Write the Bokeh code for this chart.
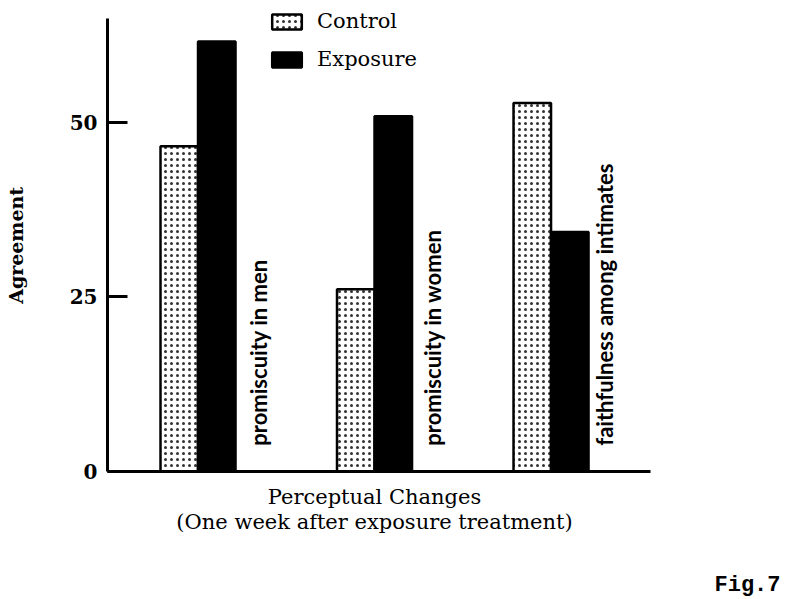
import math
from bokeh.plotting import figure
from bokeh.models import Range1d, FixedTicker, Label, Legend, LegendItem, LinearAxis
from bokeh.embed import file_html
from bokeh.resources import INLINE

# ---- data ----
categories = ["promiscuity in men", "promiscuity in women", "faithfulness among intimates"]
control = [46.6, 26.1, 52.8]
exposure = [61.6, 50.9, 34.3]
y_ticks = [0, 25, 50]
series_names = ["Control", "Exposure"]
y_title = "Agreement"
x_title = ["Perceptual Changes", "(One week after exposure treatment)"]
fig_label = "Fig.7"

SERIF = "DejaVu Serif"
SANS = "Lato"

W, H = 789, 599
# frame covers the whole canvas; axes are placed at fixed data locations
X0, X1 = -1.119, 3.351
Y0, Y1 = -18.34, 67.48
AX_LEFT, AX_RIGHT, AX_TOP = -0.5127, 2.564, 64.9

p = figure(width=W, height=H, output_backend="svg", toolbar_location=None,
           x_range=Range1d(X0, X1), y_range=Range1d(Y0, Y1),
           x_axis_location=None, y_axis_location=None, min_border=0)
p.outline_line_color = None
p.grid.visible = False
p.background_fill_color = "white"
p.border_fill_color = "white"

yax = LinearAxis(fixed_location=AX_LEFT, bounds=(0, AX_TOP), ticker=FixedTicker(ticks=y_ticks))
yax.minor_tick_line_color = None
yax.major_tick_in = 20
yax.major_tick_out = 0
yax.major_tick_line_width = 3
yax.axis_line_width = 3
yax.major_label_text_font = SERIF
yax.major_label_text_font_size = "20px"
yax.major_label_text_font_style = "bold"
yax.major_label_text_color = "black"
yax.major_label_standoff = 10
p.add_layout(yax, "left")

xax = LinearAxis(fixed_location=0, bounds=(AX_LEFT, AX_RIGHT), ticker=FixedTicker(ticks=[]))
xax.minor_tick_line_color = None
xax.major_tick_line_color = None
xax.major_label_text_font_size = "0px"
xax.axis_line_width = 3
p.add_layout(xax, "below")

# bars
idx = list(range(len(categories)))
bw = 0.2125
xc = [i - bw / 2 for i in idx]
xe = [i + bw / 2 for i in idx]
r_c = p.vbar(x=xc, top=control, width=bw, bottom=0, fill_color="white",
             hatch_pattern="dot", hatch_scale=6, hatch_weight=1.2, hatch_color="#333333",
             line_color="black", line_width=2.5)
r_e = p.vbar(x=xe, top=exposure, width=bw, bottom=0, fill_color="black",
             line_color="black", line_width=2.5)

# rotated category labels
offsets = [0.343, 0.331, 0.305]
for i, (name, off) in enumerate(zip(categories, offsets)):
    p.add_layout(Label(x=i + off, y=3.7, text=name, angle=math.pi / 2,
                       text_align="left", text_baseline="middle",
                       text_font=SANS, text_font_style="bold", text_font_size="22px",
                       text_color="black"))

# y title
p.add_layout(Label(x=-1.03, y=32.4, text=y_title, angle=math.pi / 2,
                   text_align="center", text_baseline="middle",
                   text_font=SERIF, text_font_style="bold", text_font_size="19px", text_color="black"))

# x title lines
for t, yy in zip(x_title, [-3.7, -7.3]):
    p.add_layout(Label(x=1.0, y=yy, text=t, text_align="center", text_baseline="middle",
                       text_font=SERIF, text_font_size="21px", text_color="black"))

# Fig label
p.add_layout(Label(x=3.30, y=-16.33, text=fig_label, text_align="right", text_baseline="alphabetic",
                   text_font="Liberation Mono", text_font_style="bold", text_font_size="22px",
                   text_color="black"))

legend = Legend(items=[LegendItem(label=series_names[0], renderers=[r_c]),
                       LegendItem(label=series_names[1], renderers=[r_e])],
                location=(268, 528), padding=0, margin=0, spacing=14,
                glyph_width=37, glyph_height=19, label_height=19, label_standoff=12,
                label_text_font=SERIF, label_text_font_size="21px", label_text_color="black",
                border_line_color=None, background_fill_alpha=0)
p.add_layout(legend, "center")

open("out.html", "w").write(file_html(p, INLINE))
